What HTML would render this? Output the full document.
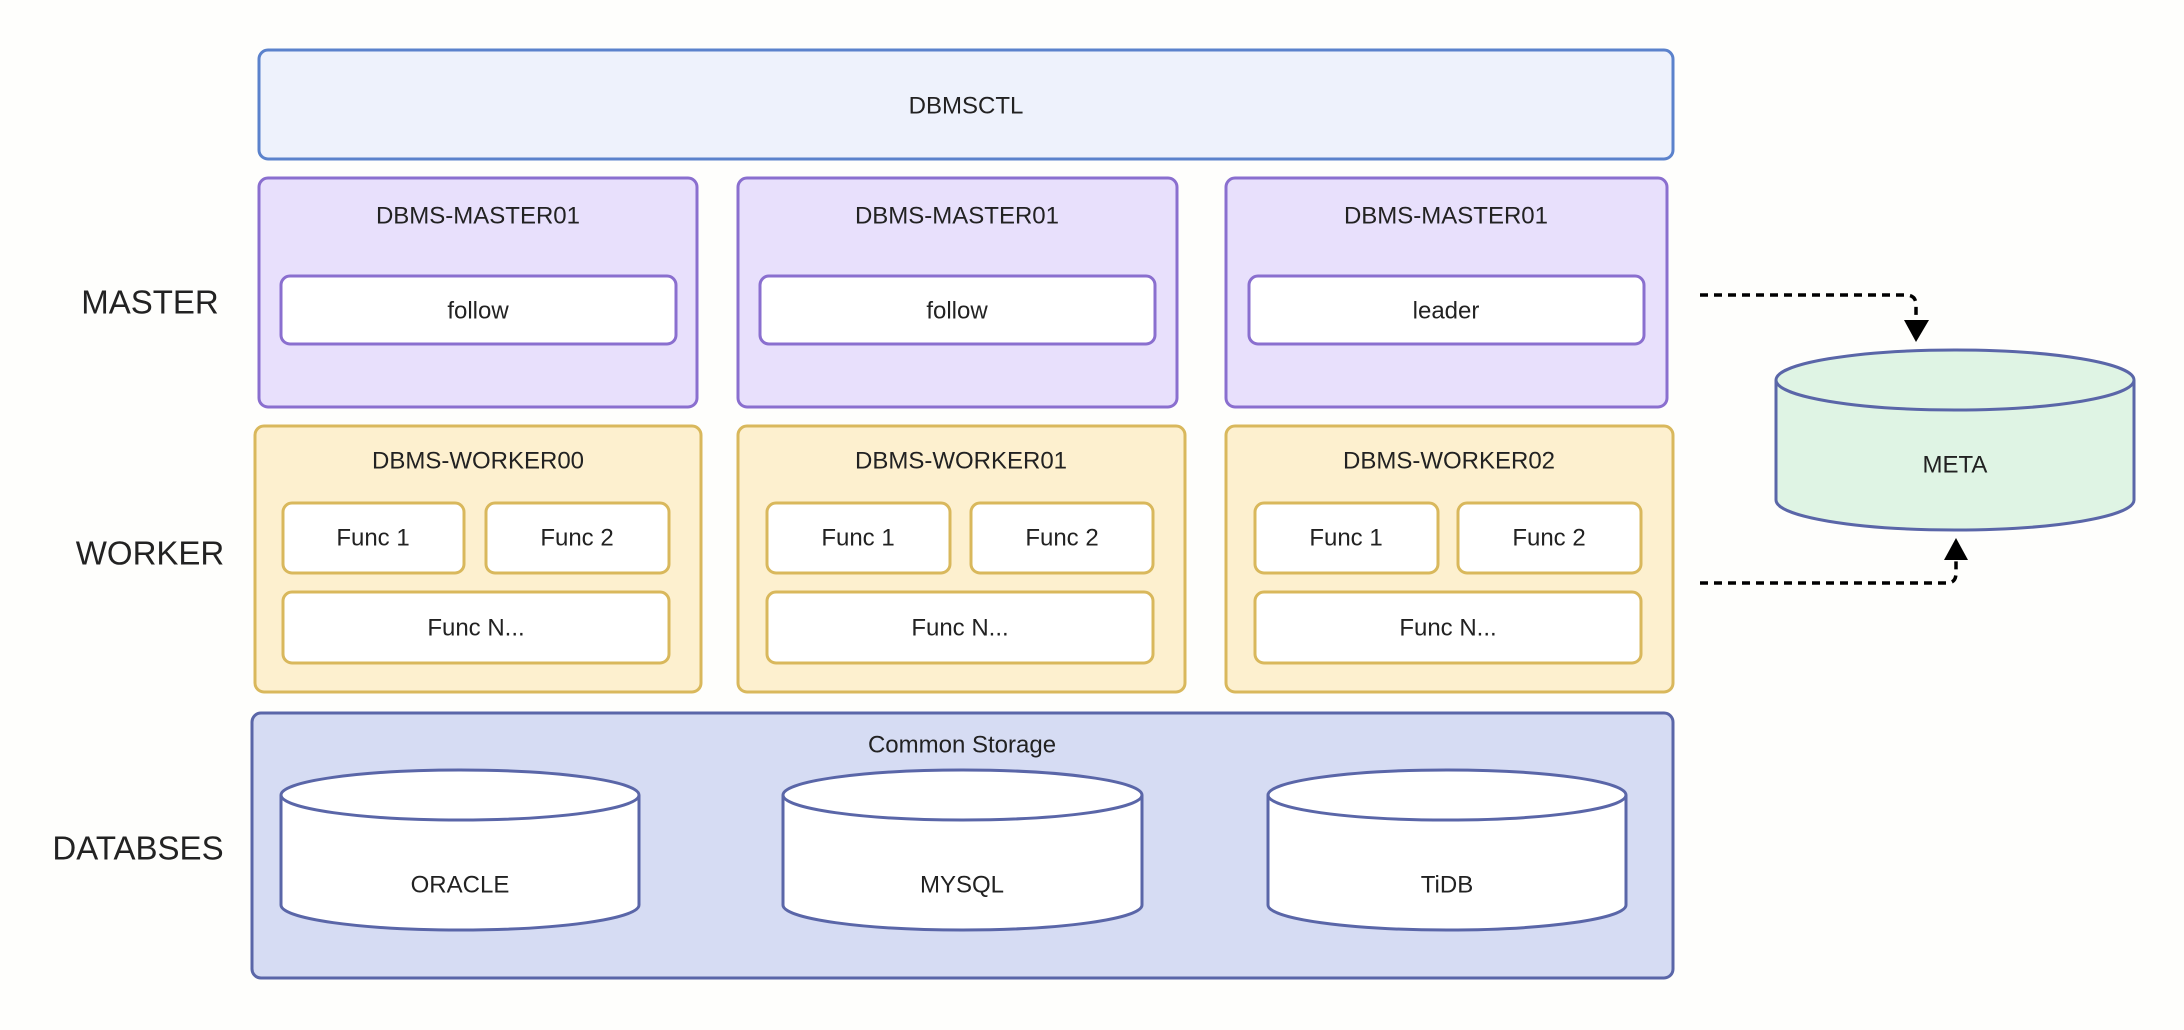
<!DOCTYPE html>
<html><head><meta charset="utf-8"><style>
html,body{margin:0;padding:0;background:#fefefc;}
svg{display:block;}
text{font-family:"Liberation Sans",sans-serif;fill:#222;text-anchor:middle;dominant-baseline:central;}
</style></head><body>
<svg width="2184" height="1030" viewBox="0 0 2184 1030" xmlns="http://www.w3.org/2000/svg">
<defs>
<marker id="ah" viewBox="0 0 10 10" refX="10" refY="5" markerWidth="8" markerHeight="8" orient="auto" markerUnits="userSpaceOnUse"></marker>
</defs>
<rect width="2184" height="1030" fill="#fefefc"/>
<!-- side labels -->
<text x="150" y="302" font-size="33">MASTER</text>
<text x="150" y="553" font-size="33">WORKER</text>
<text x="138" y="848" font-size="33">DATABSES</text>

<!-- DBMSCTL -->
<rect x="259" y="50" width="1414" height="109" rx="9" fill="#eef2fc" stroke="#5b82cc" stroke-width="3"/>
<text x="966" y="106" font-size="24">DBMSCTL</text>

<!-- Masters -->
<g stroke="#8a6fcf" stroke-width="3">
<rect x="259" y="178" width="438" height="229" rx="9" fill="#e8e0fc"/>
<rect x="738" y="178" width="439" height="229" rx="9" fill="#e8e0fc"/>
<rect x="1226" y="178" width="441" height="229" rx="9" fill="#e8e0fc"/>
<rect x="281" y="276" width="395" height="68" rx="9" fill="#fff"/>
<rect x="760" y="276" width="395" height="68" rx="9" fill="#fff"/>
<rect x="1249" y="276" width="395" height="68" rx="9" fill="#fff"/>
</g>
<g font-size="24">
<text x="478" y="216">DBMS-MASTER01</text>
<text x="957" y="216">DBMS-MASTER01</text>
<text x="1446" y="216">DBMS-MASTER01</text>
<text x="478" y="311">follow</text>
<text x="957" y="311">follow</text>
<text x="1446" y="311">leader</text>
</g>

<!-- Workers -->
<g stroke="#d9b85c" stroke-width="3">
<rect x="255" y="426" width="446" height="266" rx="9" fill="#fdf0cf"/>
<rect x="738" y="426" width="447" height="266" rx="9" fill="#fdf0cf"/>
<rect x="1226" y="426" width="447" height="266" rx="9" fill="#fdf0cf"/>
<g fill="#fff">
<rect x="283" y="503" width="181" height="70" rx="9"/>
<rect x="486" y="503" width="183" height="70" rx="9"/>
<rect x="283" y="592" width="386" height="71" rx="9"/>
<rect x="767" y="503" width="183" height="70" rx="9"/>
<rect x="971" y="503" width="182" height="70" rx="9"/>
<rect x="767" y="592" width="386" height="71" rx="9"/>
<rect x="1255" y="503" width="183" height="70" rx="9"/>
<rect x="1458" y="503" width="183" height="70" rx="9"/>
<rect x="1255" y="592" width="386" height="71" rx="9"/>
</g>
</g>
<g font-size="24">
<text x="478" y="461">DBMS-WORKER00</text>
<text x="961" y="461">DBMS-WORKER01</text>
<text x="1449" y="461">DBMS-WORKER02</text>
<text x="373" y="538">Func 1</text><text x="577" y="538">Func 2</text><text x="476" y="628">Func N...</text>
<text x="858" y="538">Func 1</text><text x="1062" y="538">Func 2</text><text x="960" y="628">Func N...</text>
<text x="1346" y="538">Func 1</text><text x="1549" y="538">Func 2</text><text x="1448" y="628">Func N...</text>
</g>

<!-- Common storage -->
<rect x="252" y="713" width="1421" height="265" rx="9" fill="#d6dcf3" stroke="#5a66a8" stroke-width="3"/>
<text x="962" y="745" font-size="24">Common Storage</text>
<g stroke="#5a66a8" stroke-width="3" fill="#fff">
<path d="M281 795 L281 905 A179 25 0 0 0 639 905 L639 795"/>
<ellipse cx="460" cy="795" rx="179" ry="25"/>
<path d="M783 795 L783 905 A179.5 25 0 0 0 1142 905 L1142 795"/>
<ellipse cx="962.5" cy="795" rx="179.5" ry="25"/>
<path d="M1268 795 L1268 905 A179 25 0 0 0 1626 905 L1626 795"/>
<ellipse cx="1447" cy="795" rx="179" ry="25"/>
</g>
<g font-size="24">
<text x="460" y="885">ORACLE</text>
<text x="962" y="885">MYSQL</text>
<text x="1447" y="885">TiDB</text>
</g>

<!-- META -->
<g stroke="#5a66a8" stroke-width="3" fill="#dff4e4">
<path d="M1776 380 L1776 500 A179 30 0 0 0 2134 500 L2134 380"/>
<ellipse cx="1955" cy="380" rx="179" ry="30"/>
</g>
<text x="1955" y="465" font-size="24">META</text>

<!-- arrows -->
<g stroke="#000" stroke-width="3.5" fill="none" stroke-dasharray="8 6">
<path d="M1700 295 L1906 295 Q1916 295 1916 305 L1916 322"/>
<path d="M1700 583 L1947 583 Q1956 583 1956 573 L1956 560"/>
</g>
<polygon points="1904,320 1929,320 1916,342" fill="#000"/>
<polygon points="1944,560 1968,560 1956,538" fill="#000"/>
</svg>
</body></html>
